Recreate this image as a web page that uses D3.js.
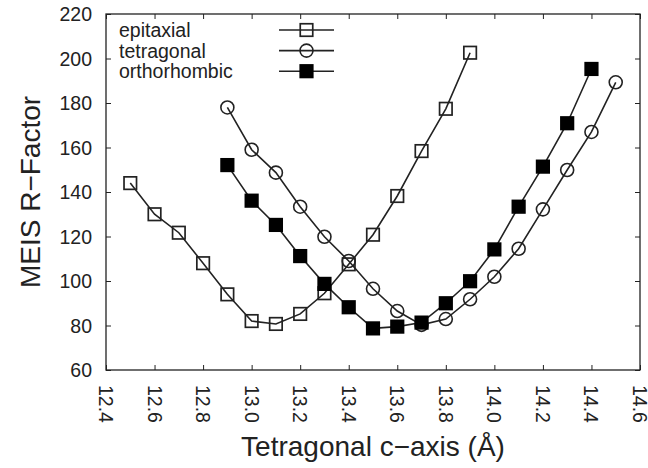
<!DOCTYPE html>
<html>
<head>
<meta charset="utf-8">
<script src="https://cdn.jsdelivr.net/npm/d3@7"></script>
<style>
  html, body { margin: 0; padding: 0; background: #fff; }
  svg { display: block; }
  text { font-family: "Liberation Sans", Arial, Helvetica, sans-serif; fill: #222; }
</style>
</head>
<body>
<svg id="chart" width="648" height="468"></svg>
<script>
// c-axis lattice parameter (Å) for each series
const epiX   = [12.5, 12.6, 12.7, 12.8, 12.9, 13.0, 13.1, 13.2, 13.3, 13.4, 13.5, 13.6, 13.7, 13.8, 13.9];
const epiY   = [144, 130, 121.7, 108, 94, 82, 80.7, 85.2, 94.5, 107.5, 120.8, 138.2, 158.4, 177.4, 202.6];

const tetX   = [12.9, 13.0, 13.1, 13.2, 13.3, 13.4, 13.5, 13.6, 13.7, 13.8, 13.9, 14.0, 14.1, 14.2, 14.3, 14.4, 14.5];
const tetY   = [178, 159, 148.7, 133.4, 119.9, 109, 96.5, 86.5, 80.3, 82.9, 91.8, 101.9, 114.5, 132.2, 149.9, 167, 189.3];

const ortX   = [12.9, 13.0, 13.1, 13.2, 13.3, 13.4, 13.5, 13.6, 13.7, 13.8, 13.9, 14.0, 14.1, 14.2, 14.3, 14.4];
const ortY   = [152.1, 136.1, 125.2, 111.2, 98.7, 88.2, 78.7, 79.5, 81.3, 90, 99.9, 114.2, 133.4, 151.4, 170.9, 195.3];

const xTicks = [12.4, 12.6, 12.8, 13.0, 13.2, 13.4, 13.6, 13.8, 14.0, 14.2, 14.4, 14.6];
const yTicks = [60, 80, 100, 120, 140, 160, 180, 200, 220];

const seriesNames = ["epitaxial", "tetragonal", "orthorhombic"];
const seriesMarks = ["openSquare", "openCircle", "filledSquare"];

const svg = d3.select("#chart");
const plotL = 106, plotR = 640, plotT = 14, plotB = 370;
const ink = "#222";

const x = d3.scaleLinear().domain([12.4, 14.6]).range([plotL, plotR]);
const y = d3.scaleLinear().domain([60, 220]).range([plotB, plotT]);

// axes: inward ticks on all four sides
const tickLen = 5;
const fmtX = d3.format(".1f");
const gB = svg.append("g").attr("transform", `translate(0,${plotB})`)
  .call(d3.axisBottom(x).tickValues(xTicks).tickSize(-tickLen).tickFormat(""));
const gT = svg.append("g").attr("transform", `translate(0,${plotT})`)
  .call(d3.axisTop(x).tickValues(xTicks).tickSize(-tickLen).tickFormat(""));
const gL = svg.append("g").attr("transform", `translate(${plotL},0)`)
  .call(d3.axisLeft(y).tickValues(yTicks).tickSize(-tickLen).tickFormat(""));
const gR = svg.append("g").attr("transform", `translate(${plotR},0)`)
  .call(d3.axisRight(y).tickValues(yTicks).tickSize(-tickLen).tickFormat(""));
[gB, gT, gL, gR].forEach(g => {
  g.select(".domain").remove();
  g.selectAll(".tick line").attr("stroke", ink).attr("stroke-width", 1);
});

// frame
svg.append("rect")
  .attr("x", plotL).attr("y", plotT)
  .attr("width", plotR - plotL).attr("height", plotB - plotT)
  .attr("fill", "none").attr("stroke", ink).attr("stroke-width", 1.3);

// y tick labels
svg.append("g").selectAll("text").data(yTicks).join("text")
  .attr("x", plotL - 14).attr("y", d => y(d))
  .attr("dy", "0.36em")
  .attr("text-anchor", "end")
  .attr("font-size", 19.5)
  .text(d => d);

// x tick labels, rotated to read downward
svg.append("g").selectAll("text").data(xTicks).join("text")
  .attr("transform", d => `translate(${x(d)},${plotB + 15}) rotate(90)`)
  .attr("dy", "0.36em")
  .attr("text-anchor", "start")
  .attr("font-size", 19.5)
  .text(d => fmtX(d));

// axis titles
svg.append("text")
  .attr("x", (plotL + plotR) / 2).attr("y", 456)
  .attr("text-anchor", "middle")
  .attr("font-size", 28)
  .text("Tetragonal c\u2212axis (Å)");
svg.append("text")
  .attr("transform", `translate(40,${(plotT + plotB) / 2}) rotate(-90)`)
  .attr("text-anchor", "middle")
  .attr("font-size", 28)
  .text("MEIS R\u2212Factor");

function drawMarker(g, kind, cx, cy) {
  if (kind === "openCircle") {
    g.append("circle").attr("cx", cx).attr("cy", cy).attr("r", 6.5)
      .attr("fill", "none").attr("stroke", ink).attr("stroke-width", 1.6);
  } else {
    const s = 12.5;
    g.append("rect").attr("x", cx - s / 2).attr("y", cy - s / 2)
      .attr("width", s).attr("height", s)
      .attr("fill", kind === "filledSquare" ? "#000" : "none")
      .attr("stroke", kind === "filledSquare" ? "#000" : ink)
      .attr("stroke-width", 1.7);
  }
}

const line = d3.line().x(d => x(d[0])).y(d => y(d[1]));
const series = [
  { xs: epiX, ys: epiY },
  { xs: tetX, ys: tetY },
  { xs: ortX, ys: ortY }
];

series.forEach((s, i) => {
  const pts = s.xs.map((v, k) => [v, s.ys[k]]);
  const g = svg.append("g");
  g.append("path").datum(pts).attr("d", line)
    .attr("fill", "none").attr("stroke", ink).attr("stroke-width", 1.6);
  pts.forEach(p => drawMarker(g, seriesMarks[i], x(p[0]), y(p[1])));
});

// legend
const leg = svg.append("g");
seriesNames.forEach((name, i) => {
  const ly = 30 + i * 20.6;
  leg.append("text").attr("x", 119).attr("y", ly).attr("dy", "0.36em")
    .attr("font-size", 19.5).text(name);
  leg.append("line").attr("x1", 279).attr("x2", 334).attr("y1", ly).attr("y2", ly)
    .attr("stroke", ink).attr("stroke-width", 1.6);
  drawMarker(leg, seriesMarks[i], 306.5, ly);
});
</script>
</body>
</html>
